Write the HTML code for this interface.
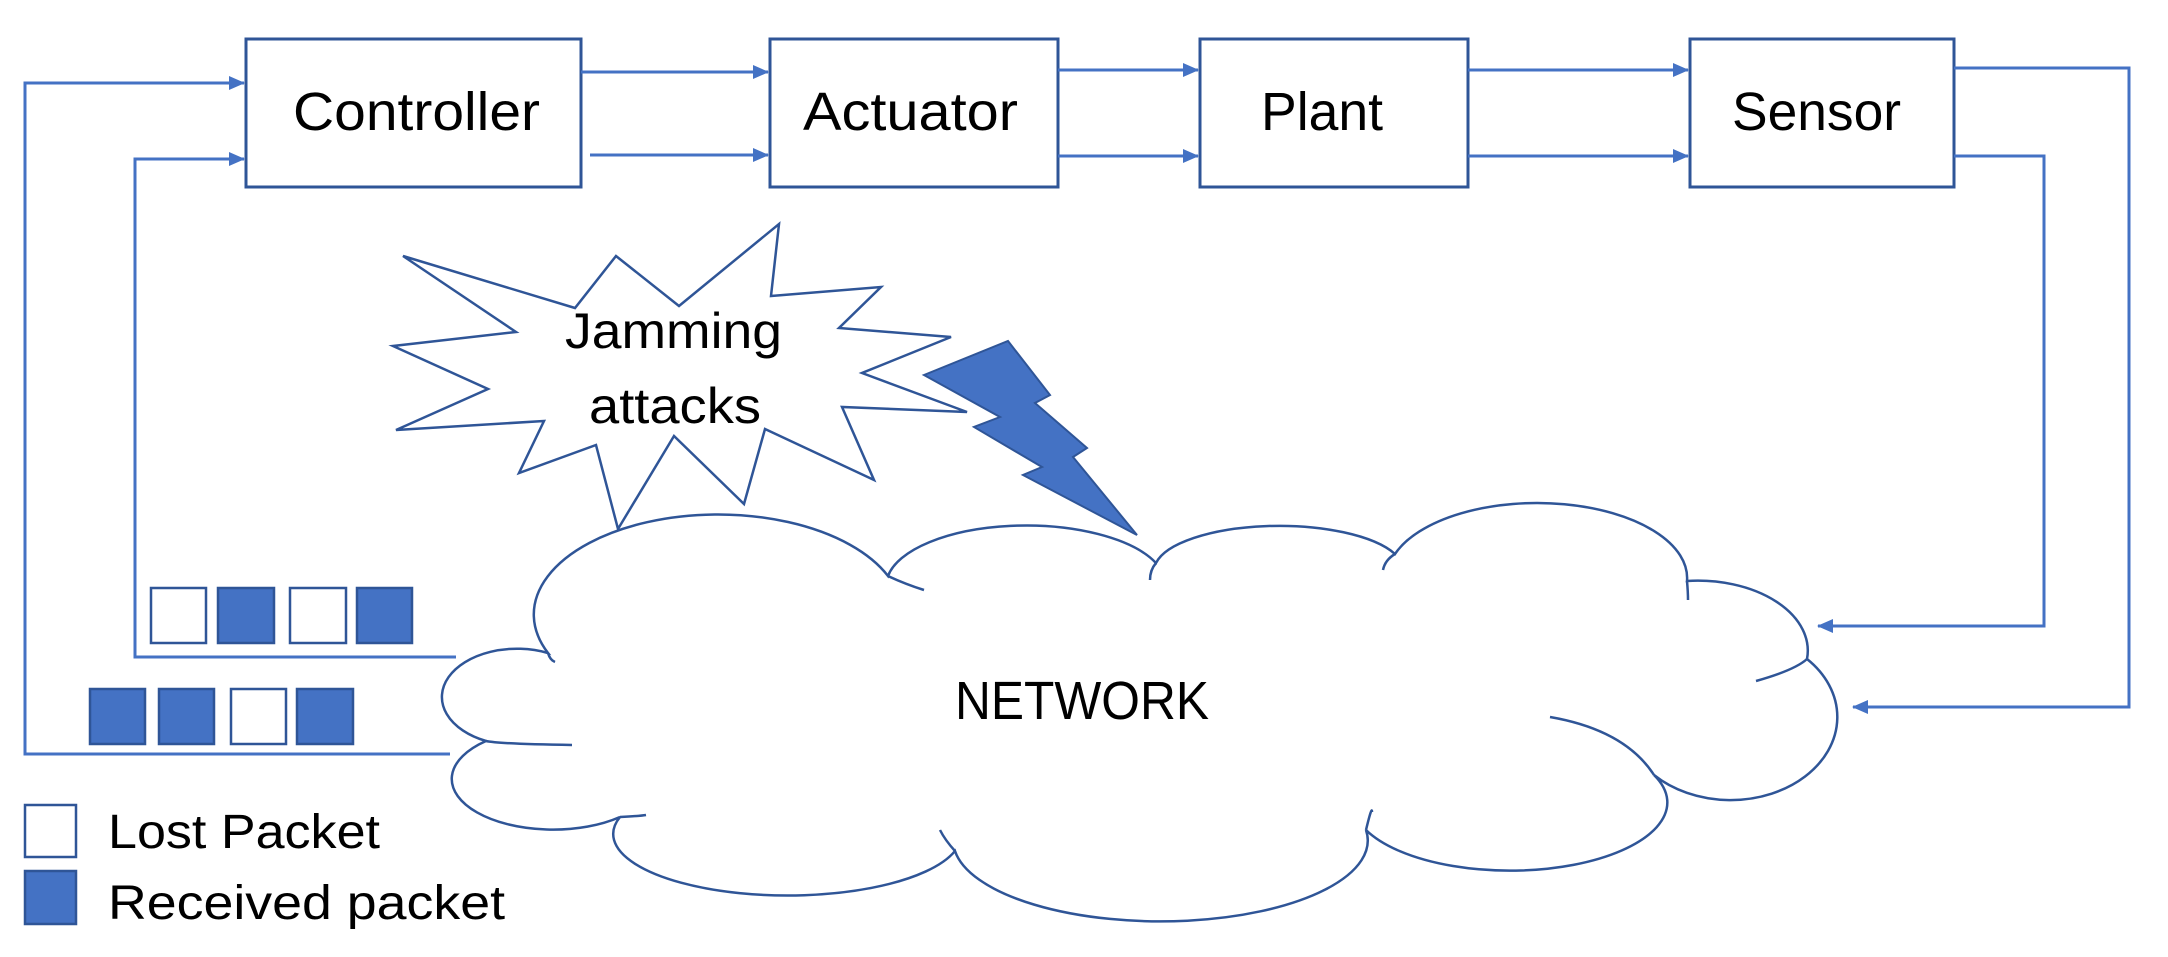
<!DOCTYPE html>
<html><head><meta charset="utf-8"><style>
html,body{margin:0;padding:0;background:#fff;}
svg{display:block;}
text{font-family:"Liberation Sans",sans-serif;fill:#000;}
</style></head><body>
<svg width="2168" height="957" viewBox="0 0 2168 957" xmlns="http://www.w3.org/2000/svg">
<defs>
<marker id="ah" markerWidth="10" markerHeight="10" refX="9" refY="5" orient="auto" markerUnits="userSpaceOnUse">
<path d="M0,0 L10,5 L0,10 Z" fill="#4472C4"/>
</marker>
<marker id="ah2" markerWidth="16" markerHeight="14" refX="15" refY="7" orient="auto" markerUnits="userSpaceOnUse">
<path d="M0,0 L16,7 L0,14 Z" fill="#4472C4"/>
</marker>
</defs>
<g fill="#fff" stroke="#2F5597" stroke-width="3">
<rect x="246" y="39" width="335" height="148"/>
<rect x="770" y="39" width="288" height="148"/>
<rect x="1200" y="39" width="268" height="148"/>
<rect x="1690" y="39" width="264" height="148"/>
</g>
<text x="293" y="130" font-size="54" textLength="247" lengthAdjust="spacingAndGlyphs">Controller</text>
<text x="803" y="130" font-size="54" textLength="215" lengthAdjust="spacingAndGlyphs">Actuator</text>
<text x="1261" y="130" font-size="54" textLength="122" lengthAdjust="spacingAndGlyphs">Plant</text>
<text x="1732" y="130" font-size="54" textLength="169" lengthAdjust="spacingAndGlyphs">Sensor</text>
<g stroke="#4472C4" stroke-width="3" fill="none">
<line x1="581" y1="72" x2="768" y2="72" marker-end="url(#ah2)"/>
<line x1="590" y1="155" x2="768" y2="155" marker-end="url(#ah2)"/>
<line x1="1058" y1="70" x2="1198" y2="70" marker-end="url(#ah2)"/>
<line x1="1058" y1="156" x2="1198" y2="156" marker-end="url(#ah2)"/>
<line x1="1468" y1="70" x2="1688" y2="70" marker-end="url(#ah2)"/>
<line x1="1468" y1="156" x2="1688" y2="156" marker-end="url(#ah2)"/>
<polyline points="1954,68 2129,68 2129,707 1853,707" marker-end="url(#ah2)"/>
<polyline points="1954,156 2044,156 2044,626 1818,626" marker-end="url(#ah2)"/>
<polyline points="450,754 25,754 25,83 244,83" marker-end="url(#ah2)"/>
<polyline points="456,657 135,657 135,159 244,159" marker-end="url(#ah2)"/>
</g>
<!-- starburst -->
<polygon fill="#fff" stroke="#2F5597" stroke-width="2.5" points="403,256 575,308 616,256 679,306 779,224 771,296 881,287 839,328 951,337 862,373 967,412 842,407 874,480 765,429 744,504 674,436 618,529 596,445 519,473 544,421 396,430 488,389 393,346 516,332"/>
<text x="565" y="348" font-size="50" textLength="217" lengthAdjust="spacingAndGlyphs">Jamming</text>
<text x="589" y="423" font-size="50" textLength="172" lengthAdjust="spacingAndGlyphs">attacks</text>
<!-- lightning -->
<polygon fill="#4472C4" stroke="#2F5597" stroke-width="2" points="924,375 1008,341 1050,395 1035,403 1087,448 1073,457 1137,535 1023,475 1042,467 974,427 1000,417"/>
<!-- cloud -->
<path fill="#fff" stroke="#2F5597" stroke-width="2.5" d="M548,653 A175,95 0 0 1 888,576 A140,60 0 0 1 1156,563 A125,45 0 0 1 1395,554 A150,75 0 0 1 1687,581 A110,70 0 0 1 1807,659 A90,70 0 0 1 1654,775 A150,65 0 0 1 1366,830 A205,80 0 0 1 955,851 A170,60 0 0 1 620,817 A90,45 0 0 1 486,741 A70,45 0 0 1 548,653 Z"/>
<g fill="none" stroke="#2F5597" stroke-width="2.5">
<path d="M888,576 Q905,584 924,590"/>
<path d="M1156,563 Q1150,570 1150,580"/>
<path d="M1395,554 Q1385,560 1383,570"/>
<path d="M1687,581 Q1688,592 1688,600"/>
<path d="M1807,659 Q1795,670 1756,681"/>
<path d="M1654,775 Q1625,730 1550,717"/>
<path d="M1366,830 Q1372,805 1372,812"/>
<path d="M955,851 Q945,840 940,830"/>
<path d="M620,817 Q640,816 646,815"/>
<path d="M486,741 Q500,744 572,745"/>
<path d="M548,653 Q550,660 555,662"/>
</g>
<text x="955" y="719" font-size="54" textLength="254" lengthAdjust="spacingAndGlyphs">NETWORK</text>
<!-- packets -->
<g stroke="#2F5597" stroke-width="2.5">
<rect x="151" y="588" width="55" height="55" fill="#fff"/>
<rect x="218" y="588" width="56" height="55" fill="#4472C4"/>
<rect x="290" y="588" width="56" height="55" fill="#fff"/>
<rect x="357" y="588" width="55" height="55" fill="#4472C4"/>
<rect x="90" y="689" width="55" height="55" fill="#4472C4"/>
<rect x="159" y="689" width="55" height="55" fill="#4472C4"/>
<rect x="231" y="689" width="55" height="55" fill="#fff"/>
<rect x="297" y="689" width="56" height="55" fill="#4472C4"/>
<rect x="25" y="805" width="51" height="52" fill="#fff"/>
<rect x="25" y="871" width="51" height="53" fill="#4472C4"/>
</g>
<text x="108" y="848" font-size="48" textLength="272" lengthAdjust="spacingAndGlyphs">Lost Packet</text>
<text x="108" y="919" font-size="48" textLength="397" lengthAdjust="spacingAndGlyphs">Received packet</text>
</svg>
</body></html>
